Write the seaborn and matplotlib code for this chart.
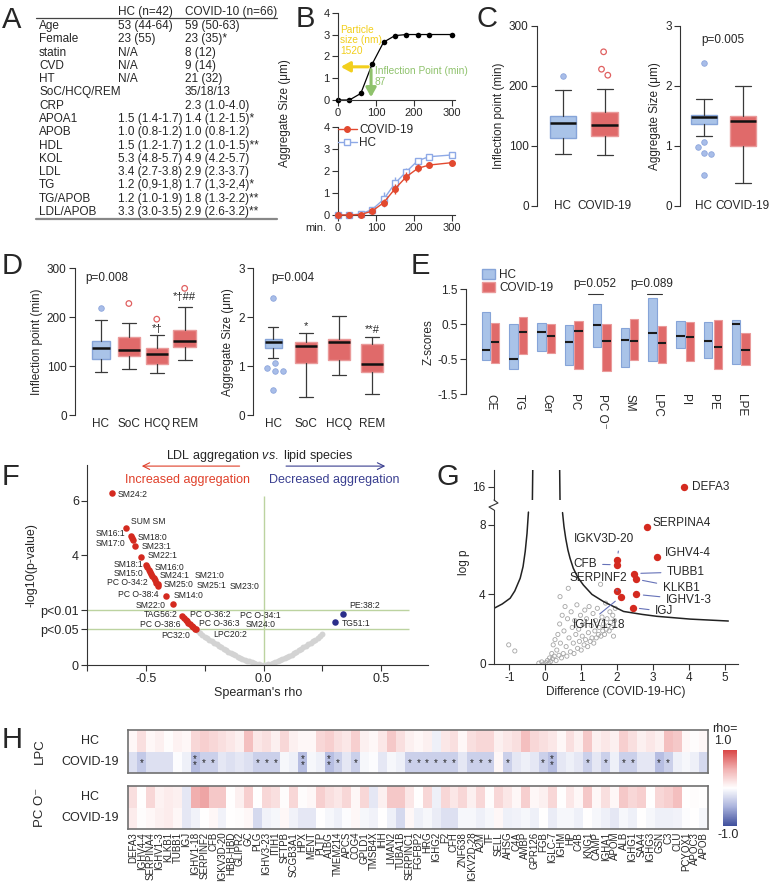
import numpy as np
import seaborn as sns
import matplotlib.pyplot as plt
from matplotlib.colors import LinearSegmentedColormap
from matplotlib.lines import Line2D
from matplotlib.patches import Patch

sns.set_theme(style="ticks")
plt.rcParams['font.family'] = ['Liberation Sans', 'DejaVu Sans']
plt.rcParams['axes.unicode_minus'] = False
plt.rcParams['mathtext.fontset'] = 'custom'
plt.rcParams['mathtext.rm'] = 'Liberation Sans'
plt.rcParams['mathtext.it'] = 'Liberation Sans:italic'

######################################################################
# Données
######################################################################
# A - tableau
tab_rows = ["Age", "Female", "statin", "CVD", "HT", "SoC/HCQ/REM", "CRP", "APOA1", "APOB",
            "HDL", "KOL", "LDL", "TG", "TG/APOB", "LDL/APOB"]
tab_hc = ["53 (44-64)", "23 (55)", "N/A", "N/A", "N/A", "", "", "1.5 (1.4-1.7)", "1.0 (0.8-1.2)",
          "1.5 (1.2-1.7)", "5.3 (4.8-5.7)", "3.4 (2.7-3.8)", "1.2 (0,9-1,8)", "1.2 (1.0-1.9)",
          "3.3 (3.0-3.5)"]
tab_cov = ["59 (50-63)", "23 (35)*", "8 (12)", "9 (14)", "21 (32)", "35/18/13", "2.3 (1.0-4.0)",
           "1.4 (1.2-1.5)*", "1.0 (0.8-1.2)", "1.2 (1.0-1.5)**", "4.9 (4.2-5.7)", "2.9 (2.3-3.7)",
           "1.7 (1,3-2,4)*", "1.8 (1.3-2.2)**", "2.9 (2.6-3.2)**"]

# B - cinétique d'agrégation
b_time = [0, 30, 60, 90, 120, 150, 180, 210, 240, 300]
b_example = [0, 0, 0.3, 1.65, 2.65, 2.95, 3.0, 3.0, 3.0, 3.0]
b_infl = 87
b_particle = 1.52
b_cov = [0, 0, 0.02, 0.18, 0.56, 1.19, 1.74, 2.12, 2.27, 2.38]
b_cov_err = [0, 0, 0.03, 0.06, 0.15, 0.22, 0.22, 0.18, 0.15, 0.12]
b_hc = [0, 0, 0.05, 0.25, 0.71, 1.44, 1.97, 2.47, 2.65, 2.73]
b_hc_err = [0, 0, 0.03, 0.06, 0.33, 0.3, 0.18, 0.1, 0.1, 0.1]

# C - boîtes HC / COVID-19
c_groups = ["HC", "COVID-19"]
c_infl_med = [138, 134.5]
c_infl_q1 = [113, 117]
c_infl_q3 = [150, 157]
c_infl_lo = [86, 84.5]
c_infl_hi = [193, 194.5]
c_infl_out = [[217], [257, 228, 218]]
c_size_med = [1.48, 1.42]
c_size_q1 = [1.37, 1.0]
c_size_q3 = [1.52, 1.5]
c_size_lo = [1.17, 0.38]
c_size_hi = [1.79, 2.0]
c_size_out = [[2.39, 1.07, 0.98, 0.88, 0.87, 0.51], []]

# D - boîtes par traitement
d_groups = ["HC", "SoC", "HCQ", "REM"]
d_infl_med = [138, 132, 125, 152]
d_infl_q1 = [114, 121, 104, 140]
d_infl_q3 = [151, 160, 136, 173]
d_infl_lo = [87, 94, 85, 112]
d_infl_hi = [194, 189, 164, 220]
d_infl_out = [[218], [228], [196], [259]]
d_infl_sig = ["", "", "*†", "*†##"]
d_size_med = [1.50, 1.41, 1.50, 1.04]
d_size_q1 = [1.36, 1.07, 1.12, 0.88]
d_size_q3 = [1.55, 1.50, 1.55, 1.46]
d_size_lo = [1.17, 0.37, 0.82, 0.42]
d_size_hi = [1.80, 1.67, 2.03, 1.59]
d_size_out = [[2.40, 1.07, 0.97, 0.90, 0.89, 0.52], [], [], []]
d_size_sig = ["", "*", "", "**#"]

# E - z-scores par classe lipidique
e_classes = ["CE", "TG", "Cer", "PC", "PC O⁻", "SM", "LPC", "PI", "PE", "LPE"]
e_hc_top = [0.85, 0.50, 0.54, 0.47, 1.06, 0.38, 1.23, 0.60, 0.57, 0.63]
e_hc_bot = [-0.53, -0.78, -0.27, -0.67, -0.15, -0.73, -0.55, -0.17, -0.48, -0.64]
e_hc_med = [-0.24, -0.50, 0.28, 0.00, 0.47, 0.04, 0.26, 0.15, 0.03, 0.51]
e_cov_top = [0.54, 0.71, 0.50, 0.60, 0.50, 0.64, 0.44, 0.55, 0.63, 0.25]
e_cov_bot = [-0.60, -0.36, -0.32, -0.78, -0.83, -0.53, -0.62, -0.55, -0.79, -0.67]
e_cov_med = [0.00, 0.28, 0.17, 0.31, 0.03, 0.02, -0.05, 0.12, -0.15, -0.24]

# F - volcano lipides
f_red_rho = [-0.645, -0.584, -0.566, -0.560, -0.557, -0.546, -0.522,
             -0.500, -0.494, -0.489, -0.484, -0.479, -0.474, -0.468, -0.462, -0.456, -0.450, -0.447,
             -0.415, -0.387,
             -0.345, -0.338, -0.332, -0.326, -0.320, -0.313, -0.306, -0.299, -0.292, -0.286]
f_red_p = [6.29, 5.01, 4.72, 4.62, 4.58, 4.35, 3.95,
           3.65, 3.56, 3.48, 3.40, 3.32, 3.25, 3.17, 3.09, 3.01, 2.94, 2.90,
           2.53, 2.21,
           1.78, 1.72, 1.66, 1.60, 1.54, 1.48, 1.42, 1.37, 1.33, 1.30]
f_blue_rho = [0.338, 0.305]
f_blue_p = [1.86, 1.58]
f_gray_rho = [-0.28, -0.27, -0.26, -0.25, -0.24, -0.23, -0.22, -0.21, -0.20, -0.19, -0.18, -0.17,
              -0.16, -0.15, -0.14, -0.13, -0.12, -0.11, -0.10, -0.09, -0.08, -0.07, -0.06, -0.05,
              -0.04, -0.03, -0.02, -0.01, 0.00, 0.01, 0.02, 0.03, 0.04, 0.05, 0.06, 0.07, 0.08,
              0.09, 0.10, 0.11, 0.12, 0.13, 0.14, 0.15, 0.16, 0.17, 0.18, 0.19, 0.20, 0.21, 0.22,
              0.23, 0.24, 0.25]
f_gray_p = [1.25, 1.18, 1.11, 1.04, 0.98, 0.92, 0.87, 0.81, 0.75, 0.70, 0.64, 0.59, 0.54, 0.49,
            0.44, 0.40, 0.35, 0.31, 0.27, 0.23, 0.20, 0.16, 0.13, 0.10, 0.07, 0.05, 0.03, 0.01,
            0.00, 0.01, 0.03, 0.05, 0.08, 0.11, 0.14, 0.17, 0.21, 0.25, 0.29, 0.33, 0.38, 0.43,
            0.48, 0.53, 0.58, 0.64, 0.69, 0.75, 0.81, 0.87, 0.93, 0.99, 1.05, 1.12]

# G - volcano protéines
g_red_x = [2.82, 3.10, 2.00, 2.00, 2.47, 2.52, 2.00, 2.10, 2.54, 2.43]
g_red_y = [7.85, 6.13, 5.98, 5.70, 5.20, 4.88, 4.20, 3.86, 4.00, 3.24]
g_defa3 = (3.86, 16.0)
g_gray_x = [-1.02, -0.85, -0.18, -0.10, -0.05, 0.02, 0.06, 0.10, 0.12, 0.15, 0.18, 0.20, 0.22,
            0.25, 0.27, 0.30, 0.32, 0.35, 0.38, 0.40, 0.41, 0.42, 0.45, 0.47, 0.50, 0.52, 0.55,
            0.58, 0.60, 0.62, 0.64, 0.66, 0.70, 0.72, 0.75, 0.78, 0.80, 0.82, 0.85, 0.88, 0.90,
            0.93, 0.95, 0.98, 1.00, 1.03, 1.05, 1.08, 1.10, 1.12, 1.15, 1.18, 1.20, 1.22, 1.25,
            1.28, 1.30, 1.33, 1.35, 1.38, 1.40, 1.42, 1.45, 1.48, 1.50, 1.54, 1.55, 1.58, 1.60,
            1.62, 1.65, 1.68, 1.70, 1.72, 1.75, 1.78, 1.80, 1.82, 1.85, 1.88, 1.90, 1.93, 1.95]
g_gray_y = [1.10, 0.75, 0.05, 0.12, 0.00, 0.08, 0.20, 0.05, 0.35, 0.15, 0.60, 0.30, 1.10, 0.45,
            1.40, 0.20, 0.80, 1.70, 0.50, 2.30, 3.87, 1.20, 0.35, 2.80, 0.60, 1.90, 3.30, 1.00,
            0.45, 2.60, 4.35, 1.50, 0.70, 3.00, 2.10, 1.20, 0.60, 2.50, 1.70, 3.40, 0.90, 2.00,
            1.30, 2.80, 0.80, 1.60, 2.30, 1.10, 3.10, 1.40, 2.60, 1.00, 1.80, 3.30, 1.30, 2.20,
            1.50, 2.90, 1.20, 1.90, 2.50, 1.50, 3.20, 1.70, 2.10, 4.58, 1.60, 2.70, 1.90, 2.30,
            1.70, 3.50, 2.00, 2.60, 2.20, 1.90, 3.00, 2.40, 2.10, 2.80, 1.60, 2.50, 3.20]
g_curve_lx = [-1.43, -1.2, -0.98, -0.85, -0.7, -0.62, -0.56, -0.51, -0.47]
g_curve_ly = [3.2, 3.45, 3.78, 4.2, 4.93, 5.6, 6.47, 7.5, 8.73]
g_curve_rx = [0.48, 0.52, 0.57, 0.63, 0.69, 0.78, 0.9, 1.06, 1.3, 1.62, 2.18, 2.7, 3.11, 4.04, 5.1]
g_curve_ry = [8.7, 7.9, 7.2, 6.55, 6.07, 5.5, 5.0, 4.54, 4.0, 3.59, 3.02, 2.85, 2.74, 2.58, 2.47]
g_top_lx = [-0.36, -0.35]
g_top_rx = [0.41, 0.40]
g_top_y = [15.0, 17.25]

# H - corrélations protéines / lipides
proteins = ["DEFA3", "IGHV4-4", "SERPINA4", "IGHV1-3", "KLKB1", "TUBB1", "IGJ", "IGHV1-18",
            "SERPINF2", "CFB", "IGKV3D-20", "HBB-HBD", "GLIPR2", "GC", "PLG", "IGHV3-23", "ITIH1",
            "SFTPB", "SCGB3A1", "HPX", "MENT", "PLTP", "A1BG", "TMEM214", "APCS", "COG4", "GPLD1",
            "TMSB4X", "IHH", "LMAN2", "TUBA1B", "SERPINC1", "FGFBP2", "HRG", "IGHG2", "F2", "CFH",
            "ZNF638", "IGKV2D-28", "A2M", "TF", "SELL", "AHSG", "C4A", "AMBP", "GPR126", "FGB",
            "IGLC-7", "IGHM", "HP", "C4B", "KNG1", "CAMP", "IGHA1", "APOM", "ALB", "IGHG1", "SAA4",
            "IGHG3", "GSN", "C3", "CLU", "PCYOX1", "APOC3", "APOB"]
lpc_hc = [0.05, 0.2, 0.05, 0.1, 0.02, 0.08, 0.05, 0.25, 0.3, 0.25, 0.2, 0.15, 0.1, 0.4, 0.15,
          0.2, 0.1, 0.25, 0.1, 0.05, 0.05, 0.25, 0.3, 0.2, 0.15, 0.3, 0.1, 0.05, 0.15, 0.35, 0.2,
          0.1, 0.05, 0.1, -0.1, 0.15, 0.2, 0.05, 0.2, 0.25, 0.25, 0.1, 0.15, 0.2, 0.4, 0.25, 0.2,
          0.15, 0.05, 0.2, 0.1, 0.35, 0.1, 0.15, 0.1, 0.3, 0.2, 0.1, 0.15, 0.1, 0.4, 0.35, 0.05,
          0.02, 0.05]
lpc_cov = [-0.2, -0.35, -0.2, -0.2, -0.2, -0.02, -0.1, -0.42, -0.3, -0.3, -0.15, -0.2, -0.15,
           -0.2, -0.3, -0.3, -0.3, -0.05, -0.1, -0.42, -0.05, -0.1, -0.42, -0.3, -0.15, -0.3,
           -0.05, -0.02, -0.15, -0.05, -0.1, -0.3, -0.3, -0.3, -0.3, -0.3, -0.3, -0.15, -0.3,
           -0.3, -0.3, 0.05, -0.3, -0.15, -0.1, -0.15, -0.3, -0.42, -0.15, -0.1, -0.15, -0.3,
           -0.15, -0.3, -0.1, -0.3, -0.3, -0.15, -0.15, -0.42, -0.3, -0.1, -0.05, -0.1, -0.25]
pco_hc = [0.2, 0.0, 0.25, 0.08, 0.12, 0.1, -0.15, 0.5, 0.55, 0.35, 0.35, 0.0, 0.1, 0.3, 0.0,
          0.25, 0.2, 0.02, 0.25, 0.02, 0.05, 0.3, 0.2, 0.15, 0.25, 0.05, 0.25, -0.15, 0.1, 0.35,
          0.35, 0.15, 0.0, 0.25, -0.1, 0.25, 0.15, 0.25, 0.1, 0.25, 0.02, 0.25, 0.15, 0.05, 0.3,
          0.05, 0.1, 0.25, 0.0, 0.15, 0.05, 0.35, 0.05, 0.2, 0.05, 0.35, 0.25, 0.3, 0.0, 0.25,
          0.3, 0.4, 0.0, 0.02, 0.0]
pco_cov = [0.12, 0.02, 0.05, 0.1, 0.12, 0.05, -0.15, -0.08, 0.0, 0.05, -0.08, 0.0, 0.02, 0.05,
           -0.25, -0.08, -0.05, 0.05, -0.08, -0.15, -0.15, 0.0, -0.05, -0.1, -0.02, 0.05, -0.05,
           -0.08, 0.0, -0.1, -0.25, 0.05, -0.1, -0.05, -0.12, -0.2, -0.2, -0.05, -0.05, -0.1,
           -0.05, 0.05, -0.1, -0.08, -0.05, -0.1, 0.0, -0.12, -0.05, -0.05, -0.1, 0.0, -0.05,
           -0.1, -0.15, -0.05, -0.1, 0.0, -0.05, -0.1, -0.1, -0.08, -0.02, 0.0, -0.05]
lpc_cov_sig = ["", "*", "", "", "", "", "", "**", "*", "*", "", "", "", "", "*", "*", "*", "",
               "", "**", "", "", "**", "*", "", "*", "", "", "", "", "", "*", "*", "*", "*", "*",
               "*", "", "*", "*", "*", "", "*", "", "", "", "*", "**", "", "", "", "*", "", "*",
               "", "*", "*", "", "", "*", "*", "", "", "", ""]

######################################################################
# Mise en page
######################################################################
W, H = 776, 882
FS = 8.5
HC_FILL, HC_EDGE = '#a9c3e8', '#86a4d8'
COV_FILL, COV_EDGE = '#e06a6a', '#ea9a9a'
RED = '#d42a1f'

fig = plt.figure(figsize=(W / 100, H / 100), dpi=100)


def axes_px(l, t, w, h):
    return fig.add_axes([l / W, 1 - (t + h) / H, w / W, h / H])


def ftext(x, y, s, **kw):
    kw.setdefault('fontsize', FS)
    fig.text(x / W, 1 - y / H, s, **kw)


def fline(xs, ys, **kw):
    fig.add_artist(Line2D([x / W for x in xs], [1 - y / H for y in ys], **kw))


def style_ax(ax, size=FS):
    sns.despine(ax=ax)
    ax.tick_params(labelsize=size, length=4, width=0.8, color='#333333', pad=2)
    for s in ax.spines.values():
        s.set_linewidth(0.8)
        s.set_color('#333333')


def draw_boxes(ax, meds, q1s, q3s, los, his, outs, widths, n_hc=1, jit=None):
    stats = [dict(med=m, q1=a, q3=b, whislo=lo, whishi=hi, fliers=[])
             for m, a, b, lo, hi in zip(meds, q1s, q3s, los, his)]
    pos = np.arange(1, len(stats) + 1)
    bp = ax.bxp(stats, positions=pos, widths=widths, capwidths=[w * 0.62 for w in widths],
                patch_artist=True, showfliers=False, manage_ticks=False,
                medianprops=dict(color='#111111', lw=1.8),
                whiskerprops=dict(color='#3a3a3a', lw=0.9),
                capprops=dict(color='#3a3a3a', lw=0.9))
    for i, box in enumerate(bp['boxes']):
        box.set_facecolor(HC_FILL if i < n_hc else COV_FILL)
        box.set_edgecolor(HC_EDGE if i < n_hc else COV_EDGE)
        box.set_linewidth(1)
    for i, vals in enumerate(outs):
        if not vals:
            continue
        offs = jit[i] if jit is not None and jit[i] else [0] * len(vals)
        xs = [pos[i] + o for o in offs]
        if i < n_hc:
            ax.scatter(xs, vals, s=16, facecolors='#a8bde8', edgecolors='#8ea6dc', lw=0.6, zorder=3)
        else:
            ax.scatter(xs, vals, s=16, facecolors='none', edgecolors='#e06060', lw=0.9, zorder=3)
    return pos


def letter(x, y, s):
    ftext(x, y, s, fontsize=21, va='top', ha='left')


# ---------------- A
letter(2, 6, 'A')
ftext(118, 12, 'HC (n=42)', va='center')
ftext(185, 12, 'COVID-10 (n=66)', va='center')
fline([36, 277], [17.5, 17.5], color='#444444', lw=0.9)
for i, (r, h, c) in enumerate(zip(tab_rows, tab_hc, tab_cov)):
    y = 26 + i * 13.29
    ftext(39, y, r, va='center')
    ftext(118, y, h, va='center')
    ftext(185, y, c, va='center')
fline([36, 277], [219, 219], color='#888888', lw=1.6)

# ---------------- B
letter(296, 5, 'B')
axB1 = axes_px(338, 12.7, 117, 87.3)
sns.lineplot(x=b_time, y=b_example, color='black', marker='o', markersize=4, linewidth=0.9,
             markeredgewidth=0, ax=axB1)
for ln in axB1.lines:
    ln.set_clip_on(False)
axB1.annotate('', xy=(0, b_particle), xytext=(b_infl, b_particle),
              arrowprops=dict(arrowstyle='-|>,head_width=0.25,head_length=0.45', color='#f2cf1d', lw=2.2))
axB1.annotate('', xy=(b_infl, 0), xytext=(b_infl, b_particle),
              arrowprops=dict(arrowstyle='-|>,head_width=0.25,head_length=0.45', color='#8fc26c', lw=2.2))
axB1.text(5, 3.45, 'Particle\nsize (nm)\n1520', color='#f2cf1d', fontsize=7.3, va='top',
          linespacing=1.05)
axB1.text(97, 1.55, 'Inflection Point (min)\n87', color='#8fc26c', fontsize=7.3, va='top',
          linespacing=1.1)
axB1.set_xlim(0, 308)
axB1.set_ylim(0, 4)
axB1.set_xticks([0, 100, 200, 300])
axB1.set_yticks([0, 1, 2, 3, 4])
style_ax(axB1, 8)

axB2 = axes_px(338, 127, 117, 88)
axB2.errorbar(b_time, b_cov, yerr=b_cov_err, color='#e2492f', marker='o', ms=4, lw=1,
              elinewidth=1, capsize=0, clip_on=False, zorder=3)
axB2.errorbar(b_time, b_hc, yerr=b_hc_err, color='#8ea9e6', marker='s', ms=4, mfc='white',
              mec='#8ea9e6', lw=1, elinewidth=1, capsize=0, clip_on=False, zorder=2)
axB2.legend(handles=[Line2D([], [], color='#e2492f', marker='o', ms=4, lw=1),
                     Line2D([], [], color='#8ea9e6', marker='s', ms=4, mfc='white', lw=1)],
            labels=['COVID-19', 'HC'], loc='upper left', bbox_to_anchor=(0.0, 1.03),
            frameon=False, fontsize=FS, handlelength=1.6, handletextpad=0.2,
            labelspacing=0.05, borderpad=0, borderaxespad=0)
axB2.set_xlim(0, 308)
axB2.set_ylim(0, 4)
axB2.set_xticks([0, 100, 200, 300])
axB2.set_yticks([0, 1, 2, 3, 4])
style_ax(axB2, 8)
ftext(326, 228, 'min.', ha='right', va='center', fontsize=8)
ftext(285, 113, 'Aggregate Size (μm)', rotation=90, ha='center', va='center')

# ---------------- C
letter(476, 5, 'C')
axC1 = axes_px(537, 26, 93, 180)
draw_boxes(axC1, c_infl_med, c_infl_q1, c_infl_q3, c_infl_lo, c_infl_hi, c_infl_out,
           [0.64, 0.64], jit=[None, [-0.03, -0.08, 0.07]])
axC1.set_xlim(0.38, 2.6)
axC1.set_ylim(0, 300)
axC1.set_yticks([0, 100, 200, 300])
axC1.set_ylabel('Inflection point (min)', fontsize=FS, labelpad=3)
axC2 = axes_px(680, 26, 86, 180)
draw_boxes(axC2, c_size_med, c_size_q1, c_size_q3, c_size_lo, c_size_hi, c_size_out,
           [0.66, 0.66], jit=[[0, 0, -0.15, 0, 0.19, 0], None])
axC2.set_xlim(0.385, 2.6)
axC2.set_ylim(0, 3)
axC2.set_yticks([0, 1, 2, 3])
axC2.set_ylabel('Aggregate Size (μm)', fontsize=FS, labelpad=3)
axC2.text(1.49, 2.77, 'p=0.005', ha='center', va='center', fontsize=FS)
for ax in (axC1, axC2):
    style_ax(ax)
    ax.spines['bottom'].set_visible(False)
    ax.set_xticks([1, 2])
    ax.set_xticklabels(c_groups)
    ax.tick_params(axis='x', length=0, pad=-4)

# ---------------- D
letter(2, 252, 'D')
axD1 = axes_px(75, 268.3, 125, 146.7)
draw_boxes(axD1, d_infl_med, d_infl_q1, d_infl_q3, d_infl_lo, d_infl_hi, d_infl_out,
           [0.65, 0.8, 0.8, 0.8])
for i, s in enumerate(d_infl_sig):
    if s:
        axD1.text(i + 1, d_infl_hi[i] + (12 if i == 2 else 22), s, ha='center', va='center', fontsize=8)
axD1.set_xlim(0.07, 4.55)
axD1.set_ylim(0, 300)
axD1.set_yticks([0, 100, 200, 300])
axD1.set_ylabel('Inflection point (min)', fontsize=FS, labelpad=3)
axD1.text(0.45, 280, 'p=0.008', ha='left', va='center', fontsize=FS)
axD2 = axes_px(253, 268.3, 137, 146.7)
draw_boxes(axD2, d_size_med, d_size_q1, d_size_q3, d_size_lo, d_size_hi, d_size_out,
           [0.52, 0.67, 0.67, 0.67], jit=[[0, 0.06, -0.2, 0.06, 0.3, 0], None, None, None])
for i, s in enumerate(d_size_sig):
    if s:
        axD2.text(i + 1, d_size_hi[i] + 0.14, s, ha='center', va='center', fontsize=8)
axD2.set_xlim(0.39, 4.55)
axD2.set_ylim(0, 3)
axD2.set_yticks([0, 1, 2, 3])
axD2.set_ylabel('Aggregate Size (μm)', fontsize=FS, labelpad=3)
axD2.text(0.96, 2.8, 'p=0.004', ha='left', va='center', fontsize=FS)
for ax in (axD1, axD2):
    style_ax(ax)
    ax.spines['bottom'].set_visible(False)
    ax.set_xticks([1, 2, 3, 4])
    ax.set_xticklabels(d_groups)
    ax.tick_params(axis='x', length=0, pad=2)

# ---------------- E
letter(411, 252, 'E')
axE = axes_px(466, 289, 294, 105.3)
xe = np.arange(len(e_classes))
hc_h = np.array(e_hc_top) - np.array(e_hc_bot)
cov_h = np.array(e_cov_top) - np.array(e_cov_bot)
axE.bar(xe - 0.17, hc_h, bottom=e_hc_bot, width=0.3, color=HC_FILL, edgecolor=HC_EDGE, lw=0.8)
axE.bar(xe + 0.17, cov_h, bottom=e_cov_bot, width=0.3, color=COV_FILL, edgecolor=COV_EDGE, lw=0.8)
axE.hlines(e_hc_med, xe - 0.32, xe - 0.02, color='#1a1a1a', lw=1.5)
axE.hlines(e_cov_med, xe + 0.02, xe + 0.32, color='#1a1a1a', lw=1.5)
axE.set_xlim(-0.88, 9.69)
axE.set_ylim(-1.5, 1.5)
axE.set_yticks([-1.5, -0.5, 0.5, 1.5])
axE.set_yticklabels(['-1.5', '-0.5', '0.5', '1.5'])
axE.set_ylabel('Z-scores', fontsize=FS, labelpad=2)
style_ax(axE)
axE.spines['bottom'].set_visible(False)
axE.set_xticks(xe)
axE.set_xticklabels(e_classes, rotation=270, va='top', ha='center')
axE.tick_params(axis='x', length=0, pad=0)
axE.legend(handles=[Patch(facecolor=HC_FILL, edgecolor=HC_EDGE), Patch(facecolor=COV_FILL, edgecolor=COV_EDGE)],
           labels=['HC', 'COVID-19'], loc='upper left', bbox_to_anchor=(0.055, 1.19), frameon=False,
           fontsize=FS, handlelength=1.1, handleheight=0.85, handletextpad=0.35, labelspacing=0.1,
           borderpad=0, borderaxespad=0)
axE.text(3.76, 1.63, 'p=0.052', ha='center', va='center', fontsize=FS)
axE.plot([3.5, 4.04], [1.36, 1.36], color='#333333', lw=0.8, clip_on=False)
axE.text(5.8, 1.63, 'p=0.089', ha='center', va='center', fontsize=FS)
axE.plot([5.62, 6.16], [1.36, 1.36], color='#333333', lw=0.8, clip_on=False)

# ---------------- F
letter(2, 463, 'F')
axF = axes_px(87.3, 465, 340.7, 200)
axF.hlines([2.0, 1.301], -0.75, 0.62, color='#bcd3a0', lw=1, zorder=1)
axF.vlines(0, 0, 6.17, color='#bcd3a0', lw=1, zorder=1)
sns.scatterplot(x=f_gray_rho, y=f_gray_p, color='#d3d3d3', s=18, linewidth=0, ax=axF, zorder=2)
sns.scatterplot(x=f_red_rho, y=f_red_p, color=RED, s=22, linewidth=0, ax=axF, zorder=3)
sns.scatterplot(x=f_blue_rho, y=f_blue_p, color='#2b2f8a', s=22, linewidth=0, ax=axF, zorder=3)
f_labels = [("SM24:2", -0.619, 6.24, 'left'), ("SUM SM", -0.563, 5.22, 'left'),
            ("SM16:1", -0.589, 4.80, 'right'), ("SM18:0", -0.537, 4.67, 'left'),
            ("SM17:0", -0.589, 4.43, 'right'), ("SM23:1", -0.520, 4.34, 'left'),
            ("SM22:1", -0.495, 3.98, 'left'), ("SM18:1", -0.512, 3.66, 'right'),
            ("SM16:0", -0.465, 3.56, 'left'), ("SM15:0", -0.512, 3.33, 'right'),
            ("SM24:1", -0.444, 3.25, 'left'), ("SM21:0", -0.291, 3.25, 'left'),
            ("PC O-34:2", -0.491, 3.01, 'right'), ("SM25:0", -0.427, 2.93, 'left'),
            ("SM25:1", -0.286, 2.92, 'left'), ("SM23:0", -0.146, 2.85, 'left'),
            ("PC O-38:4", -0.448, 2.59, 'right'), ("SM14:0", -0.384, 2.52, 'left'),
            ("SM22:0", -0.418, 2.19, 'right'), ("TAG56:2", -0.367, 1.83, 'right'),
            ("PC O-38:6", -0.354, 1.49, 'right'), ("PC O-36:2", -0.312, 1.84, 'left'),
            ("PC O-36:3", -0.274, 1.52, 'left'), ("PC O-34:1", -0.099, 1.82, 'left'),
            ("SM24:0", -0.074, 1.48, 'left'), ("PC32:0", -0.435, 1.07, 'left'),
            ("LPC20:2", -0.214, 1.11, 'left'), ("PE:38:2", 0.364, 2.19, 'left'),
            ("TG51:1", 0.335, 1.53, 'left')]
for txt, x, y, ha in f_labels:
    axF.text(x, y, txt, ha=ha, va='center', fontsize=6.2)
axF.set_xlim(-0.75, 0.70)
axF.set_ylim(0, 7.3)
axF.set_xticks([-0.75, -0.5, -0.25, 0, 0.25, 0.5])
axF.set_xticklabels(['', '-0.5', '', '0.0', '', '0.5'])
axF.set_yticks([0, 1.301, 2, 4, 6])
axF.set_yticklabels(['0', 'p<0.05', 'p<0.01', '4', '6'])
axF.set_xlabel("Spearman's rho", fontsize=9, labelpad=1)
axF.set_ylabel('-log10(p-value)', fontsize=9, labelpad=2)
style_ax(axF, 9)
axF.text(-0.018, 7.63, r'LDL aggregation $\it{vs.}$ lipid species', ha='center', va='center', fontsize=9)
axF.annotate('', xy=(-0.53, 7.26), xytext=(-0.09, 7.26), annotation_clip=False,
             arrowprops=dict(arrowstyle='->', color='#e0402a', lw=0.8))
axF.annotate('', xy=(0.53, 7.26), xytext=(0.084, 7.26), annotation_clip=False,
             arrowprops=dict(arrowstyle='->', color='#3a3f90', lw=0.8))
axF.text(-0.325, 6.75, 'Increased aggregation', ha='center', va='center', fontsize=9, color='#e0402a')
axF.text(0.024, 6.75, 'Decreased aggregation', ha='left', va='center', fontsize=9, color='#3a3f90')

# ---------------- G
letter(436, 463, 'G')
axG = axes_px(494, 510, 244, 154)
axGt = axes_px(494, 470, 244, 30)
axG.scatter(g_gray_x, g_gray_y, marker='o', s=9, facecolors='none', edgecolors='#a5a5a5', linewidths=0.6)
axG.plot(g_curve_lx, g_curve_ly, color='#222222', lw=1.1)
axG.plot(g_curve_rx, g_curve_ry, color='#222222', lw=1.1)
axGt.plot(g_top_lx, g_top_y, color='#222222', lw=1.1)
axGt.plot(g_top_rx, g_top_y, color='#222222', lw=1.1)
sns.scatterplot(x=g_red_x, y=g_red_y, color=RED, s=28, linewidth=0, ax=axG, zorder=3)
sns.scatterplot(x=[g_defa3[0]], y=[g_defa3[1]], color=RED, s=28, linewidth=0, ax=axGt, zorder=3)
axGt.text(4.1, 16.0, 'DEFA3', ha='left', va='center', fontsize=FS)
g_labels = [("SERPINA4", 0, 2.99, 8.09, 'left', False, None),
            ("IGHV4-4", 1, 3.33, 6.40, 'left', False, None),
            ("IGKV3D-20", 2, 1.64, 7.18, 'center', True, (0.75, 0.0)),
            ("CFB", 3, 1.43, 5.75, 'right', True, None),
            ("TUBB1", 4, 3.39, 5.29, 'left', True, None),
            ("KLKB1", 5, 3.27, 4.37, 'left', True, None),
            ("SERPINF2", 6, 1.47, 4.96, 'center', True, (0.8, 0.0)),
            ("IGHV1-18", 7, 1.49, 2.24, 'center', True, (0.4, 1.0)),
            ("IGHV1-3", 8, 3.36, 3.70, 'left', True, None),
            ("IGJ", 9, 3.06, 3.02, 'left', True, None)]
for txt, k, tx, ty, ha, line, rel in g_labels:
    if line:
        ap = dict(arrowstyle='-', color='#6672b8', lw=0.8, shrinkA=2, shrinkB=5)
        if rel is not None:
            ap['relpos'] = rel
        axG.annotate(txt, xy=(g_red_x[k], g_red_y[k]), xytext=(tx, ty), ha=ha, va='center',
                     fontsize=FS, arrowprops=ap)
    else:
        axG.text(tx, ty, txt, ha=ha, va='center', fontsize=FS)
for ax in (axG, axGt):
    ax.set_xlim(-1.43, 5.37)
    style_ax(ax)
axG.set_ylim(0, 8.85)
axG.set_yticks([0, 4, 8])
axG.set_xticks([-1, 0, 1, 2, 3, 4, 5])
axG.set_xlabel('Difference (COVID-19-HC)', fontsize=FS, labelpad=1)
axG.set_ylabel('log p', fontsize=FS, labelpad=2)
axG.yaxis.set_label_coords(-0.1, 0.66)
axGt.set_ylim(15, 17.25)
axGt.set_yticks([16])
axGt.set_xticks([])
axGt.spines['bottom'].set_visible(False)
fline([494, 498, 489, 494], [500, 503, 507, 510], color='#333333', lw=0.8)

# ---------------- H
letter(2, 726, 'H')
cmap = LinearSegmentedColormap.from_list('rb', ['#3f4f9c', '#a9b2dc', '#ffffff', '#f1b0b0', '#d94545'])
axH1 = axes_px(128.3, 730, 580, 43)
axH2 = axes_px(128.3, 786, 580, 43)
sns.heatmap(np.array([lpc_hc, lpc_cov]), ax=axH1, cmap=cmap, vmin=-1, vmax=1, cbar=False,
            xticklabels=False, yticklabels=False)
sns.heatmap(np.array([pco_hc, pco_cov]), ax=axH2, cmap=cmap, vmin=-1, vmax=1, cbar=False,
            xticklabels=proteins, yticklabels=False)
axH2.tick_params(axis='x', labelrotation=90, labelsize=7, length=0, pad=2)
for ax in (axH1, axH2):
    for s in ax.spines.values():
        s.set_visible(True)
        s.set_color('#707070')
        s.set_linewidth(1.2)
for i, s in enumerate(lpc_cov_sig):
    if s == '*':
        axH1.text(i + 0.5, 1.55, '*', ha='center', va='center', fontsize=7)
    elif s == '**':
        axH1.text(i + 0.5, 1.5, '*\n*', ha='center', va='center', fontsize=7, linespacing=0.45)
for y, lab in [(741, 'HC'), (762, 'COVID-19'), (797, 'HC'), (818, 'COVID-19')]:
    ftext(90, y, lab, ha='center', va='center', fontsize=9)
ftext(40, 751.5, 'LPC', rotation=90, ha='center', va='center', fontsize=9.5)
ftext(40, 807.5, 'PC O⁻', rotation=90, ha='center', va='center', fontsize=9.5)
cax = axes_px(723, 750, 14, 76)
cb = fig.colorbar(axH1.collections[0], cax=cax)
cb.outline.set_visible(False)
cax.set_yticks([])
ftext(712, 729, 'rho=', ha='left', va='center', fontsize=9)
ftext(714, 741.5, '1.0', ha='left', va='center', fontsize=9)
ftext(717, 835, '-1.0', ha='left', va='center', fontsize=9)

fig.savefig('out.png', dpi=100)
